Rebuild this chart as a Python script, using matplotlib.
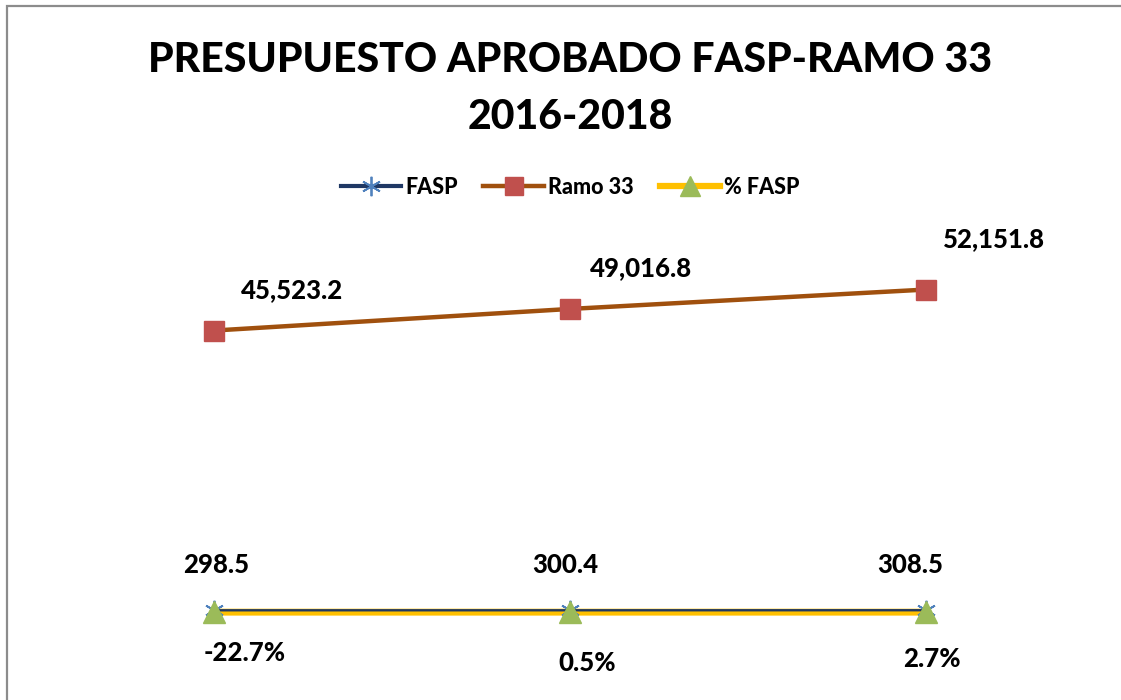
import matplotlib
matplotlib.use("Agg")
import matplotlib.pyplot as plt
from matplotlib.patches import Rectangle
from matplotlib.lines import Line2D

years = ["2016", "2017", "2018"]
fasp = [298.5, 300.4, 308.5]
ramo33 = [45523.2, 49016.8, 52151.8]
pct_fasp = [-0.227, 0.005, 0.027]

fasp_labels = ["298.5", "300.4", "308.5"]
ramo_labels = ["45,523.2", "49,016.8", "52,151.8"]
pct_labels = ["-22.7%", "0.5%", "2.7%"]

W, H = 1121, 700
plt.rcParams['font.family'] = ['Lato', 'DejaVu Sans']
fig = plt.figure(figsize=(W / 100, H / 100), dpi=100)

# border
fig.patches.append(Rectangle((7 / W, -0.1), 1.2, (H - 6) / H + 0.1, transform=fig.transFigure,
                             fill=False, edgecolor="#8c8c8c", linewidth=1.6))

ax = fig.add_axes([36 / W, (H - 674) / H, (1104 - 36) / W, (674 - 241) / H])
ax.set_xlim(-0.5, 2.5)
ax.set_ylim(-10000, 60000)
ax.axis("off")

x = list(range(len(years)))
ax.plot(x, pct_fasp, color="#FFC000", linewidth=5.0, zorder=2)
ax.plot(x, fasp, color="#1F3864", linewidth=1.7, marker=(6, 2, 0), markersize=14,
        markeredgecolor="#4F81BD", markeredgewidth=1.3, zorder=3)
ax.plot(x, pct_fasp, linestyle="none", marker="^", markersize=15.5,
        markerfacecolor="#9BBB59", markeredgecolor="#9BBB59", zorder=4)
ax.plot(x, ramo33, color="#A0500E", linewidth=3.2, marker="s", markersize=14,
        markerfacecolor="#C0504D", markeredgecolor="#C0504D", zorder=3)

lab_kw = dict(fontsize=18.5, fontweight="black", color="black", ha="center", va="center",
              textcoords="offset pixels")
fasp_off = [(2, 45), (-5, 45), (-16, 45)]
ramo_off = [(78, 40), (71, 41), (68, 50)]
pct_off = [(31, -41), (17, -51), (6, -47)]
for i in x:
    ax.annotate(fasp_labels[i], (i, fasp[i]), xytext=fasp_off[i], **lab_kw)
    ax.annotate(ramo_labels[i], (i, ramo33[i]), xytext=ramo_off[i], **lab_kw)
    ax.annotate(pct_labels[i], (i, pct_fasp[i]), xytext=pct_off[i], **lab_kw)

fig.text(570 / W, (H - 60) / H, "PRESUPUESTO APROBADO FASP-RAMO 33", ha="center", va="center",
         fontsize=29.5, fontweight="black")
fig.text(570 / W, (H - 117) / H, "2016-2018", ha="center", va="center",
         fontsize=29.5, fontweight="black")

handles = [
    Line2D([], [], color="#1F3864", linewidth=3, marker=(6, 2, 0), markersize=14,
           markeredgecolor="#4F81BD", markeredgewidth=1.3),
    Line2D([], [], color="#A0500E", linewidth=3.2, marker="s", markersize=13,
           markerfacecolor="#C0504D", markeredgecolor="#C0504D"),
    Line2D([], [], color="#FFC000", linewidth=4.5, marker="^", markersize=14,
           markerfacecolor="#9BBB59", markeredgecolor="#9BBB59"),
]
fig.legend(handles, ["FASP", "Ramo 33", "% FASP"], loc="center",
           bbox_to_anchor=(570 / W, (H - 187) / H), ncol=3, frameon=False,
           prop=dict(family=['Lato', 'DejaVu Sans'], weight="black", size=15.5),
           handlelength=2.8, handletextpad=0.2, columnspacing=1.2)

fig.savefig("out.png", dpi=100)
